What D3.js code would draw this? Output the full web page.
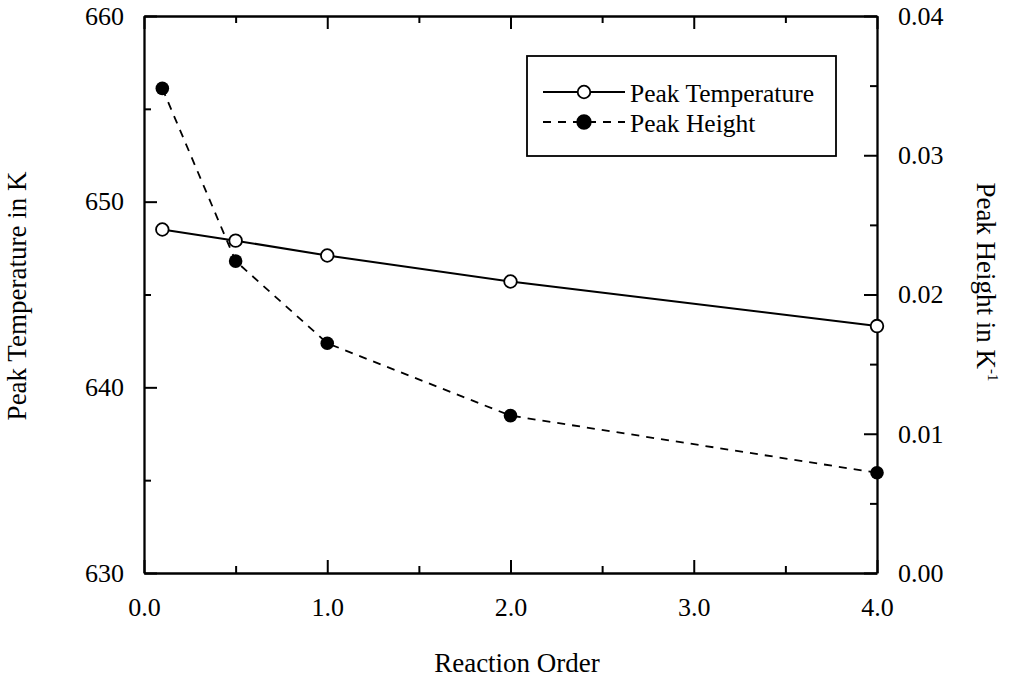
<!DOCTYPE html>
<html>
<head>
<meta charset="utf-8">
<script src="https://cdn.jsdelivr.net/npm/d3@7"></script>
<style>
  html, body { margin: 0; padding: 0; background: #fff; }
  svg { display: block; }
  text { font-family: "Liberation Serif", "Times New Roman", serif; fill: #000; }
</style>
</head>
<body>
<svg id="chart" width="1016" height="680"></svg>
<script>
// ---- data ----
const reactionOrders = [0.1, 0.5, 1.0, 2.0, 4.0];
const peakTemperature = [648.5, 647.9, 647.1, 645.7, 643.3];
const peakHeight = [0.0348, 0.0224, 0.0165, 0.0113, 0.0072];

const xMajorTicks = [0, 1, 2, 3, 4];
const xTickLabels = ["0.0", "1.0", "2.0", "3.0", "4.0"];
const xMinorTicks = [0.5, 1.5, 2.5, 3.5];
const yLeftMajorTicks = [630, 640, 650, 660];
const yLeftMinorTicks = [635, 645, 655];
const yRightMajorTicks = [0, 0.01, 0.02, 0.03, 0.04];
const yRightTickLabels = ["0.00", "0.01", "0.02", "0.03", "0.04"];
const yRightMinorTicks = [0.005, 0.015, 0.025, 0.035];

const legendLabels = ["Peak Temperature", "Peak Height"];

// ---- layout ----
const L = 144, R = 877, T = 16, B = 573;
const svg = d3.select("#chart");

const x = d3.scaleLinear().domain([0, 4]).range([L, R]);
const yL = d3.scaleLinear().domain([630, 660]).range([B, T]);
const yR = d3.scaleLinear().domain([0, 0.04]).range([B, T]);

const MAJ = 13, MIN = 7, AXW = 2.3;

function styleAxis(g) {
  g.selectAll("path.domain").attr("stroke", "#000").attr("stroke-width", AXW);
  g.selectAll(".tick line").attr("stroke", "#000").attr("stroke-width", 2);
  g.selectAll(".tick text").style("font-size", "26px")
    .style("font-family", '"Liberation Serif", "Times New Roman", serif');
}

// bottom axis
const gB = svg.append("g").attr("transform", `translate(0,${B})`)
  .call(d3.axisBottom(x).tickValues(xMajorTicks)
    .tickFormat((d, i) => xTickLabels[i]).tickSizeInner(-MAJ).tickSizeOuter(0).tickPadding(MAJ + 12));
styleAxis(gB);
svg.append("g").attr("transform", `translate(0,${B})`)
  .call(d3.axisBottom(x).tickValues(xMinorTicks).tickFormat("").tickSizeInner(-MIN).tickSizeOuter(0))
  .call(g => { g.select("path.domain").remove(); g.selectAll("line").attr("stroke", "#000").attr("stroke-width", 2); });

// top axis
const gT = svg.append("g").attr("transform", `translate(0,${T})`)
  .call(d3.axisTop(x).tickValues(xMajorTicks).tickFormat("").tickSizeInner(-MAJ).tickSizeOuter(0));
styleAxis(gT);
svg.append("g").attr("transform", `translate(0,${T})`)
  .call(d3.axisTop(x).tickValues(xMinorTicks).tickFormat("").tickSizeInner(-MIN).tickSizeOuter(0))
  .call(g => { g.select("path.domain").remove(); g.selectAll("line").attr("stroke", "#000").attr("stroke-width", 2); });

// left axis
const gL = svg.append("g").attr("transform", `translate(${L},0)`)
  .call(d3.axisLeft(yL).tickValues(yLeftMajorTicks).tickFormat(d3.format("d"))
    .tickSizeInner(-MAJ).tickSizeOuter(0).tickPadding(MAJ + 7));
styleAxis(gL);
svg.append("g").attr("transform", `translate(${L},0)`)
  .call(d3.axisLeft(yL).tickValues(yLeftMinorTicks).tickFormat("").tickSizeInner(-MIN).tickSizeOuter(0))
  .call(g => { g.select("path.domain").remove(); g.selectAll("line").attr("stroke", "#000").attr("stroke-width", 2); });

// right axis
const gR = svg.append("g").attr("transform", `translate(${R},0)`)
  .call(d3.axisRight(yR).tickValues(yRightMajorTicks).tickFormat((d, i) => yRightTickLabels[i])
    .tickSizeInner(-MAJ).tickSizeOuter(0).tickPadding(MAJ + 8));
styleAxis(gR);
svg.append("g").attr("transform", `translate(${R},0)`)
  .call(d3.axisRight(yR).tickValues(yRightMinorTicks).tickFormat("").tickSizeInner(-MIN).tickSizeOuter(0))
  .call(g => { g.select("path.domain").remove(); g.selectAll("line").attr("stroke", "#000").attr("stroke-width", 2); });

// ---- series ----
const tempData = reactionOrders.map((o, i) => ({ x: o, y: peakTemperature[i] }));
const heightData = reactionOrders.map((o, i) => ({ x: o, y: peakHeight[i] }));

svg.append("path").datum(heightData)
  .attr("fill", "none").attr("stroke", "#000").attr("stroke-width", 1.8)
  .attr("stroke-dasharray", "8,7")
  .attr("d", d3.line().x(d => x(d.x)).y(d => yR(d.y)));

svg.append("path").datum(tempData)
  .attr("fill", "none").attr("stroke", "#000").attr("stroke-width", 2)
  .attr("d", d3.line().x(d => x(d.x)).y(d => yL(d.y)));

svg.selectAll("circle.h").data(heightData).enter().append("circle")
  .attr("class", "h").attr("cx", d => x(d.x)).attr("cy", d => yR(d.y))
  .attr("r", 6.8).attr("fill", "#000");

svg.selectAll("circle.t").data(tempData).enter().append("circle")
  .attr("class", "t").attr("cx", d => x(d.x)).attr("cy", d => yL(d.y))
  .attr("r", 6.3).attr("fill", "#fff").attr("stroke", "#000").attr("stroke-width", 1.8);

// ---- axis titles ----
svg.append("text").attr("x", 517).attr("y", 672).attr("text-anchor", "middle")
  .style("font-size", "27px").text("Reaction Order");

svg.append("text").attr("transform", "translate(26,296) rotate(-90)")
  .attr("text-anchor", "middle").style("font-size", "27px").text("Peak Temperature in K");

const rt = svg.append("text").attr("transform", "translate(977,282) rotate(90)")
  .attr("text-anchor", "middle").style("font-size", "27px");
rt.append("tspan").text("Peak Height in K");
rt.append("tspan").attr("dy", -11).style("font-size", "15px").text("-1");

// ---- legend ----
svg.append("rect").attr("x", 527).attr("y", 56).attr("width", 309).attr("height", 100)
  .attr("fill", "#fff").attr("stroke", "#000").attr("stroke-width", 1.8);

const legRows = [
  { y: 92, dash: null, fill: "#fff", r: 6.3 },
  { y: 122, dash: "8,7", fill: "#000", r: 6.8 }
];
legRows.forEach((row, i) => {
  svg.append("line").attr("x1", 543).attr("x2", 625).attr("y1", row.y).attr("y2", row.y)
    .attr("stroke", "#000").attr("stroke-width", i === 0 ? 2 : 1.8)
    .attr("stroke-dasharray", row.dash);
  svg.append("circle").attr("cx", 584).attr("cy", row.y).attr("r", row.r)
    .attr("fill", row.fill).attr("stroke", "#000").attr("stroke-width", 1.8);
  svg.append("text").attr("x", 630).attr("y", row.y + 10)
    .style("font-size", "25.5px").text(legendLabels[i]);
});
</script>
</body>
</html>
